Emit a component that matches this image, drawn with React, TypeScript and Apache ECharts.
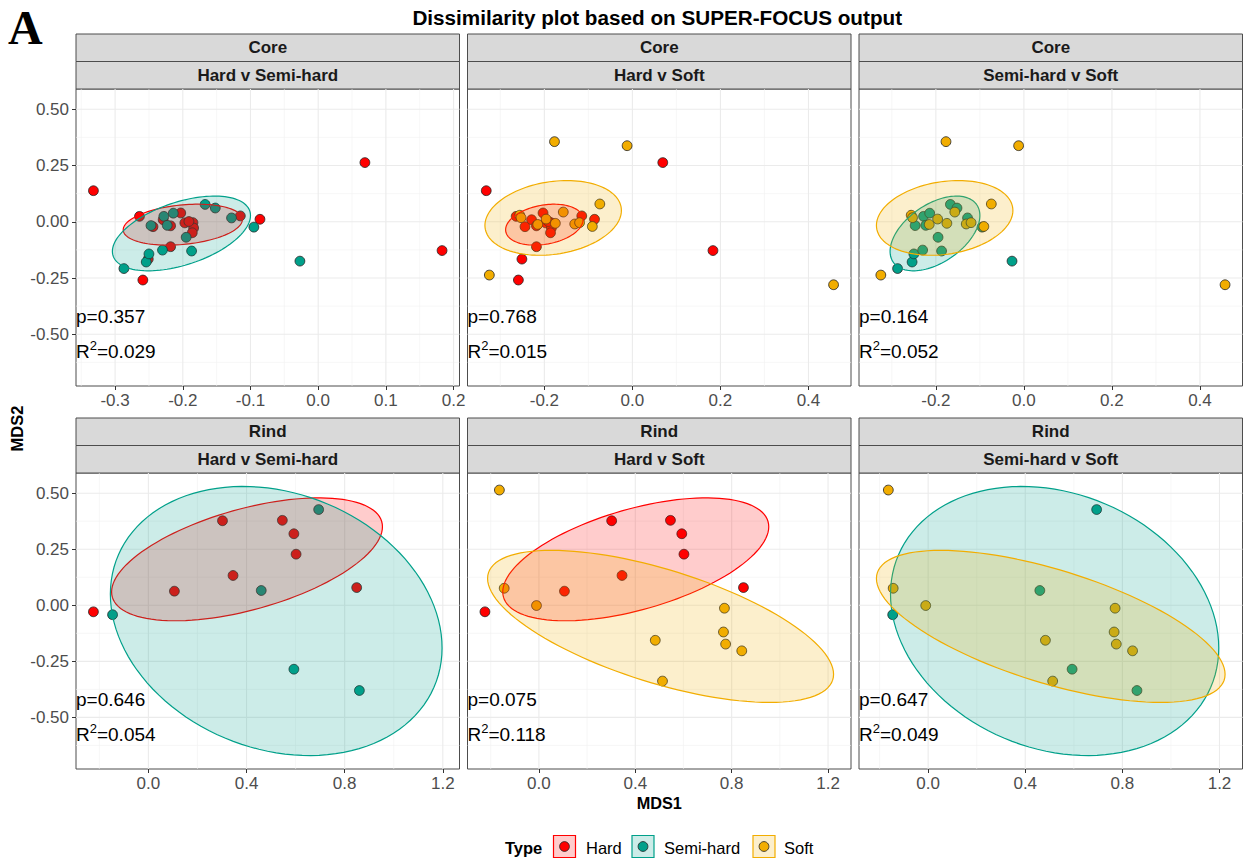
import React, { useEffect, useRef } from 'react';
import * as echarts from 'echarts';

// ---------- data ----------
const groups = ['Hard', 'Semi-hard', 'Soft'];
const groupColors = ['#FF0000', '#00A08A', '#F2AD00'];
const groupFills = ['rgba(255,0,0,0.2)', 'rgba(0,160,138,0.2)', 'rgba(242,173,0,0.2)'];

const coreHard = [
  [-0.332, 0.138], [0.069, 0.263], [0.183, -0.128], [-0.259, -0.259], [-0.251, -0.166],
  [-0.218, -0.111], [-0.086, 0.011], [-0.115, 0.026], [-0.264, 0.024], [-0.244, -0.022],
  [-0.203, 0.039], [-0.229, 0.009], [-0.218, -0.018], [-0.197, -0.005], [-0.185, -0.004],
  [-0.184, -0.028], [-0.186, -0.049], [-0.191, 0.001],
];
const coreSemi = [
  [-0.287, -0.208], [-0.254, -0.179], [-0.25, -0.143], [-0.23, -0.126], [-0.187, -0.13],
  [-0.195, -0.069], [-0.247, -0.017], [-0.228, 0.024], [-0.214, 0.038], [-0.167, 0.077],
  [-0.152, 0.061], [-0.128, 0.017], [-0.095, -0.024], [-0.027, -0.175], [-0.223, -0.016],
];
const coreSoft = [
  [-0.177, 0.356], [-0.012, 0.338], [0.457, -0.28], [-0.325, -0.237], [-0.074, 0.079],
  [-0.157, 0.043], [-0.256, 0.029], [-0.253, 0.018], [-0.196, 0.012], [-0.175, -0.007],
  [-0.215, -0.012], [-0.131, -0.01], [-0.12, -0.004], [-0.091, -0.021],
];
const rindHard = [
  [-0.224, -0.029], [0.106, 0.063], [0.302, 0.377], [0.345, 0.133],
  [0.546, 0.379], [0.593, 0.319], [0.602, 0.228], [0.849, 0.079],
];
const rindSemi = [
  [-0.146, -0.042], [0.46, 0.066], [0.694, 0.427], [0.593, -0.285], [0.86, -0.38],
];
const rindSoft = [
  [-0.164, 0.514], [-0.144, 0.076], [-0.01, -0.001], [0.483, -0.156], [0.513, -0.338],
  [0.77, -0.013], [0.766, -0.119], [0.775, -0.173], [0.842, -0.203],
];

// ellipses: [centre x, centre y, half x-extent, half y-extent, tilt (y at rightmost point, relative)]
const coreHardEllipse = [-0.2, -0.013, 0.088, 0.091, 0.25];
const coreSemiEllipse = [-0.202, -0.052, 0.102, 0.166, 0.48];
const coreSoftEllipse = [-0.18, 0.017, 0.155, 0.166, 0.2];
const rindHardEllipse = [0.402, 0.205, 0.552, 0.274, 0.53];
const rindSemiEllipse = [0.521, -0.07, 0.676, 0.6, -0.2];
const rindSoftEllipse = [0.505, -0.094, 0.718, 0.339, -0.63];

const tissues = ['Core', 'Rind'];
const comparisons = ['Hard v Semi-hard', 'Hard v Soft', 'Semi-hard v Soft'];
const comparisonGroups = [[0, 1], [0, 2], [1, 2]];
const pValues = [['0.357', '0.768', '0.164'], ['0.646', '0.075', '0.647']];
const r2Values = [['0.029', '0.015', '0.052'], ['0.054', '0.118', '0.049']];
const xMajorSteps = [[0.1, 0.2, 0.2], [0.4, 0.4, 0.4]];
const yMajorStep = 0.25;
const pLabelY = -0.42;
const r2LabelY = -0.57;

const tissuePoints = [[coreHard, coreSemi, coreSoft], [rindHard, rindSemi, rindSoft]];
const tissueEllipses = [
  [coreHardEllipse, coreSemiEllipse, coreSoftEllipse],
  [rindHardEllipse, rindSemiEllipse, rindSoftEllipse],
];

// ---------- layout ----------
const FONT = '"Liberation Sans", Arial, Helvetica, sans-serif';
const colLeft = [76, 467.5, 859];
const colWidth = 383.5;
const rowTop = [89, 473];
const rowHeight = [297, 296];
const stripH = 27.5;

function expand(lo: number, hi: number) {
  const r = hi - lo;
  return [lo - 0.05 * r, hi + 0.05 * r];
}
function ticks(min: number, max: number, step: number) {
  const out: number[] = [];
  for (let i = Math.ceil(min / step - 1e-9); i * step <= max + 1e-9; i++) out.push(+(i * step).toFixed(6));
  return out;
}
function isMultiple(v: number, step: number) {
  const q = v / step;
  return Math.abs(q - Math.round(q)) < 1e-6;
}
function ellipsePoint(e: number[], t: number) {
  const [cx, cy, a, b, k] = e;
  const d = Math.acos(k);
  return [cx + a * Math.cos(t), cy + b * Math.cos(t - d)];
}

function buildOption() {
  // global y range (fixed across facets)
  let yLo = Infinity, yHi = -Infinity;
  tissuePoints.forEach((gs) => gs.forEach((pts) => pts.forEach((p) => { yLo = Math.min(yLo, p[1]); yHi = Math.max(yHi, p[1]); })));
  tissueEllipses.forEach((es) => es.forEach((e) => { yLo = Math.min(yLo, e[1] - e[3]); yHi = Math.max(yHi, e[1] + e[3]); }));
  const yr = expand(yLo, yHi);
  const yMajor = ticks(yr[0], yr[1], yMajorStep);
  const yMinor = ticks(yr[0], yr[1], yMajorStep / 2).filter((v) => !isMultiple(v, yMajorStep));

  const grid: any[] = [];
  const xAxis: any[] = [];
  const yAxis: any[] = [];
  const series: any[] = [];
  const graphic: any[] = [];

  let idx = 0;
  for (let r = 0; r < 2; r++) {
    for (let c = 0; c < 3; c++) {
      const gIdx = comparisonGroups[c];
      const pts = gIdx.map((g) => tissuePoints[r][g]);
      const ells = gIdx.map((g) => tissueEllipses[r][g]);
      let lo = Infinity, hi = -Infinity;
      pts.forEach((ps) => ps.forEach((p) => { lo = Math.min(lo, p[0]); hi = Math.max(hi, p[0]); }));
      ells.forEach((e) => { lo = Math.min(lo, e[0] - e[2]); hi = Math.max(hi, e[0] + e[2]); });
      const xr = expand(lo, hi);
      const step = xMajorSteps[r][c];
      const xMajor = ticks(xr[0], xr[1], step);
      const xMinor = ticks(xr[0], xr[1], step / 2).filter((v) => !isMultiple(v, step));

      const left = colLeft[c], top = rowTop[r], w = colWidth, h = rowHeight[r];
      grid.push({ left, top, width: w, height: h, show: true, borderColor: '#4d4d4d', borderWidth: 1, backgroundColor: 'transparent' });
      xAxis.push({
        type: 'value', gridIndex: idx, min: xr[0], max: xr[1], position: 'bottom',
        axisLine: { show: false, onZero: false },
        splitLine: { show: false },
        axisTick: { show: true, length: 4, customValues: xMajor, lineStyle: { color: '#333', width: 1 } },
        axisLabel: {
          show: true, customValues: xMajor, margin: 6, fontSize: 17, color: '#4D4D4D', fontFamily: FONT,
          formatter: (v: number) => v.toFixed(1), showMinLabel: true, showMaxLabel: true, hideOverlap: false,
        },
      });
      yAxis.push({
        type: 'value', gridIndex: idx, min: yr[0], max: yr[1], position: 'left',
        axisLine: { show: false, onZero: false },
        splitLine: { show: false },
        axisTick: { show: c === 0, length: 4, customValues: yMajor, lineStyle: { color: '#333', width: 1 } },
        axisLabel: {
          show: c === 0, customValues: yMajor, margin: 7, fontSize: 17, color: '#4D4D4D', fontFamily: FONT,
          formatter: (v: number) => v.toFixed(2), hideOverlap: false,
        },
      });

      // grid lines
      const gridData = [
        ...xMinor.map((v) => [v, 0, 0]), ...yMinor.map((v) => [v, 1, 0]),
        ...xMajor.map((v) => [v, 0, 1]), ...yMajor.map((v) => [v, 1, 1]),
      ];
      series.push({
        type: 'custom', xAxisIndex: idx, yAxisIndex: idx, silent: true, z: 1,
        data: gridData,
        renderItem: (params: any, api: any) => {
          const v = api.value(0), o = api.value(1), m = api.value(2);
          const a = o === 0 ? api.coord([v, yr[0]]) : api.coord([xr[0], v]);
          const b = o === 0 ? api.coord([v, yr[1]]) : api.coord([xr[1], v]);
          return {
            type: 'line', shape: { x1: a[0], y1: a[1], x2: b[0], y2: b[1] },
            style: { stroke: m ? '#EBEBEB' : '#F2F2F2', lineWidth: m ? 1.1 : 0.6 },
          };
        },
      });

      // points
      gIdx.forEach((g, j) => {
        series.push({
          type: 'scatter', name: groups[g], xAxisIndex: idx, yAxisIndex: idx, silent: true, z: 2,
          data: pts[j], symbol: 'circle', symbolSize: 9.8,
          itemStyle: { color: groupColors[g], borderColor: '#222', borderWidth: 0.8, opacity: 1 },
        });
      });

      // ellipses
      gIdx.forEach((g, j) => {
        const e = ells[j];
        series.push({
          type: 'custom', xAxisIndex: idx, yAxisIndex: idx, silent: true, z: 3,
          data: [[e[0], e[1]]],
          renderItem: (params: any, api: any) => {
            const points: number[][] = [];
            const n = 120;
            for (let i = 0; i < n; i++) {
              const t = (i / n) * Math.PI * 2;
              points.push(api.coord(ellipsePoint(e, t)));
            }
            return {
              type: 'polygon', shape: { points },
              style: { fill: groupFills[g], stroke: groupColors[g], lineWidth: 1.2 },
            };
          },
        });
      });

      // statistics annotation
      const pText = 'p=' + pValues[r][c];
      const rVal = '=' + r2Values[r][c];
      series.push({
        type: 'custom', xAxisIndex: idx, yAxisIndex: idx, silent: true, z: 4,
        data: [[xr[0], pLabelY]],
        renderItem: (params: any, api: any) => {
          const a = api.coord([xr[0], pLabelY]);
          const b = api.coord([xr[0], r2LabelY]);
          const st = { fill: '#000', fontSize: 19, fontFamily: FONT, align: 'left', textAlign: 'left', verticalAlign: 'middle', textVerticalAlign: 'middle' };
          return {
            type: 'group',
            children: [
              { type: 'text', x: a[0], y: a[1], style: { ...st, text: pText } },
              {
                type: 'text', x: b[0], y: b[1],
                style: {
                  ...st, text: '{b|R}{s|2}{b|' + rVal + '}',
                  rich: {
                    b: { fontSize: 19, fontFamily: FONT, fill: '#000', lineHeight: 22, verticalAlign: 'bottom' },
                    s: { fontSize: 13, fontFamily: FONT, fill: '#000', lineHeight: 22, verticalAlign: 'top', padding: [0, 0, 0, 0] },
                  },
                },
              },
            ],
          };
        },
      });

      // strips
      const stripStyle = { fill: '#D9D9D9', stroke: '#4d4d4d', lineWidth: 1 };
      const stripText = { fill: '#1A1A1A', font: 'bold 17px ' + FONT, textAlign: 'center', textVerticalAlign: 'middle' };
      graphic.push({ type: 'rect', shape: { x: left, y: top - 2 * stripH, width: w, height: stripH }, style: stripStyle });
      graphic.push({ type: 'rect', shape: { x: left, y: top - stripH, width: w, height: stripH }, style: stripStyle });
      graphic.push({ type: 'text', x: left + w / 2, y: top - 1.5 * stripH, style: { ...stripText, text: tissues[r] } });
      graphic.push({ type: 'text', x: left + w / 2, y: top - 0.5 * stripH, style: { ...stripText, text: comparisons[c] } });

      idx++;
    }
  }

  const centerX = (colLeft[0] + colLeft[2] + colWidth) / 2;
  graphic.push({ type: 'text', x: 8, y: 27, style: { text: 'A', fill: '#000', font: 'bold 48px "Liberation Serif", "Times New Roman", serif', textAlign: 'left', textVerticalAlign: 'middle' } });
  graphic.push({ type: 'text', x: centerX - 2, y: 17, style: { text: 'Dissimilarity plot based on SUPER-FOCUS output', fill: '#000', font: 'bold 20.7px ' + FONT, textAlign: 'center', textVerticalAlign: 'middle' } });
  graphic.push({ type: 'text', x: centerX, y: 803, style: { text: 'MDS1', fill: '#000', font: 'bold 16.3px ' + FONT, textAlign: 'center', textVerticalAlign: 'middle' } });
  graphic.push({ type: 'text', x: 17, y: 428.5, rotation: Math.PI / 2, style: { text: 'MDS2', fill: '#000', font: 'bold 16.5px ' + FONT, textAlign: 'center', textVerticalAlign: 'middle' } });

  // legend
  const legendY = 846.5;
  graphic.push({ type: 'text', x: 505, y: legendY + 1, style: { text: 'Type', fill: '#000', font: 'bold 16.5px ' + FONT, textAlign: 'left', textVerticalAlign: 'middle' } });
  const keyX = [553.5, 632, 753];
  const labelX = [586, 664, 784];
  groups.forEach((g, i) => {
    graphic.push({ type: 'rect', shape: { x: keyX[i], y: legendY - 11, width: 22, height: 22 }, style: { fill: groupFills[i], stroke: groupColors[i], lineWidth: 1.2 } });
    graphic.push({ type: 'circle', shape: { cx: keyX[i] + 11, cy: legendY, r: 4.9 }, style: { fill: groupColors[i], stroke: '#222', lineWidth: 0.8 } });
    graphic.push({ type: 'text', x: labelX[i], y: legendY + 1, style: { text: g, fill: '#000', font: '16.5px ' + FONT, textAlign: 'left', textVerticalAlign: 'middle' } });
  });

  return {
    animation: false,
    backgroundColor: '#fff',
    textStyle: { fontFamily: FONT },
    grid, xAxis, yAxis, series, graphic,
  };
}

export default function App() {
  const ref = useRef<HTMLDivElement>(null);
  useEffect(() => {
    const chart = echarts.init(ref.current as HTMLDivElement, null, { renderer: 'svg' });
    chart.setOption(buildOption() as any);
    return () => chart.dispose();
  }, []);
  return <div ref={ref} style={{ position: 'absolute', left: 0, top: 0, width: 1250, height: 861, background: '#fff' }} />;
}
